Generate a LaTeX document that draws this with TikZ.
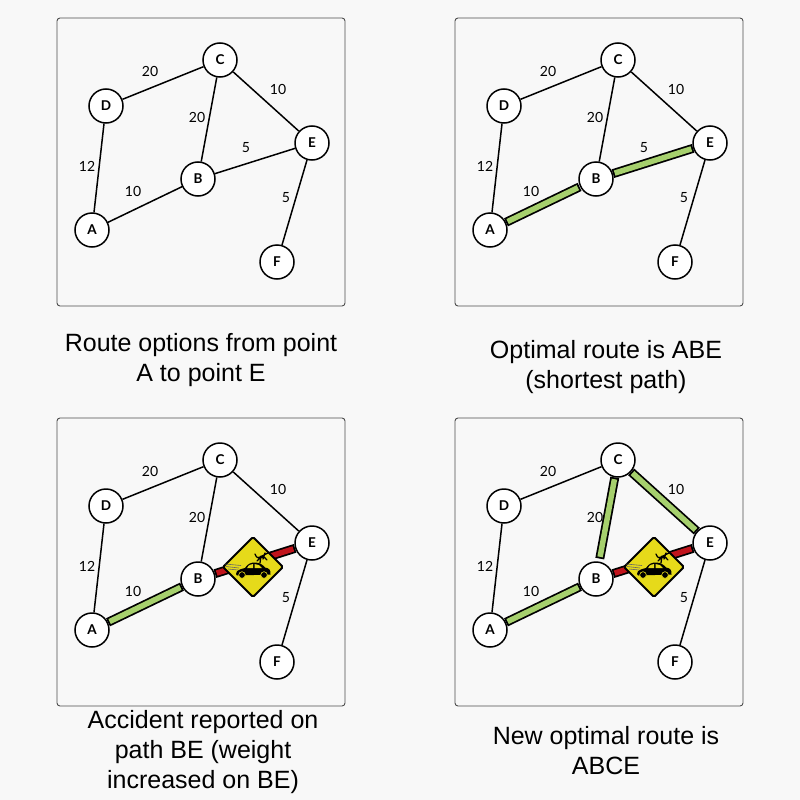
\documentclass[tikz,border=0pt]{standalone}
\usepackage{fontspec}
\setmainfont{Liberation Sans}
\newfontfamily\lato{Lato}
\newcommand{\fpx}[1]{\fontsize{#1}{#1}\selectfont}
\definecolor{pagebg}{HTML}{F8F8F8}
\definecolor{hlgreen}{HTML}{A6D06D}
\definecolor{hlred}{HTML}{C0141C}
\definecolor{signyellow}{HTML}{E6DA1A}
\tikzset{
  x=1pt,y=-1pt,
  panelbox/.style={draw=black!70,line width=0.9pt,rounded corners=3pt,fill=pagebg},
  vertex/.style={circle,draw=black,line width=1.5pt,fill=white,minimum size=34pt,inner sep=0pt,font={\lato\bfseries\fpx{13.5}}},
  edge/.style={draw=black,line width=1.5pt},
  weight/.style={font={\lato\fpx{14}},inner sep=0pt},
  caption/.style={align=center,font={\fontsize{25}{30}\selectfont},inner sep=0pt},
  barout/.style={draw=black,line width=9pt},
  barin/.style={line width=5.5pt},
  greenbar/.style={barin,draw=hlgreen},
  redbar/.style={barin,draw=hlred},
}
\newcommand{\panel}[3]{%
  \begin{scope}[shift={(#2,#3)},name prefix=#1]
    \draw[panelbox] (57,18) rectangle (345,306);
    \node[vertex] (C) at (220,60) {C};
    \node[vertex] (D) at (106,106) {D};
    \node[vertex] (B) at (198,179) {B};
    \node[vertex] (E) at (312,143) {E};
    \node[vertex] (A) at (92,230) {A};
    \node[vertex] (F) at (277,262) {F};
    \node[weight] (w1) at (150,71) {20};
    \node[weight] (w2) at (278,89) {10};
    \node[weight] (w3) at (197,117) {20};
    \node[weight] (w5) at (87,166) {12};
    \node[weight] (w6) at (133,191) {10};
    \node[weight] (w7) at (286,198) {5};
  \end{scope}}
\newcommand{\plainedges}[2]{\foreach \a/\b in {#2}{\draw[edge] (#1\a) -- (#1\b);}}
% bar from node to node, with a black outline closing its free ends
\newcommand{\hlbar}[5]{% style, from, to, shorten at from, shorten at to
  \draw[barout,shorten <=#4pt,shorten >=#5pt] (#2) -- (#3);
  \draw[#1,shorten <=#4pt+1.8pt,shorten >=#5pt+1.8pt] (#2) -- (#3);}
\newcommand{\accident}[2]{%
  \begin{scope}[shift={(#1,#2)}]
    \draw[fill=signyellow,draw=black,line width=2pt,line join=round,rounded corners=1.5pt] (0,-30) -- (30,0) -- (0,30) -- (-30,0) -- cycle;
    \draw[black!60,line width=0.6pt] (-28,-3) -- (-12,-1.5) (-27,-0.5) -- (-14,1) (-25,2) -- (-15,3);
    \fill[black] (-17,7) .. controls (-17,3) and (-12,2) .. (-8,1)
      .. controls (-5,-3.5) and (-2,-4.5) .. (2,-4.5) .. controls (7,-4.5) and (10,-2) .. (12,0.5)
      .. controls (16,1) and (18,3) .. (17.5,7.5) -- (-16,8.5) -- cycle;
    \fill[signyellow] (-6,1.2) .. controls (-4.5,-2) and (-2.5,-3) .. (0,-3) -- (0,1.2) -- cycle
      (1.5,-3) .. controls (5,-3) and (7,-1.5) .. (9,1) -- (1.5,1.2) -- cycle;
    \draw[fill=black,draw=signyellow,line width=0.6pt] (-11,8) circle (3.3) (11,8) circle (3.3);
    \draw[black,line width=1.3pt,line cap=round,line join=round]
      (2,-13) .. controls (4,-8) and (5,-9) .. (9,-11) -- (15,-14)
      (4,-6) .. controls (7,-10) and (11,-12) .. (14,-7) (8,-11) -- (7,-4) (12,-14) -- (10,-8);
  \end{scope}}
\begin{document}
\begin{tikzpicture}
\useasboundingbox (0,0) rectangle (800,800);
\fill[pagebg] (0,0) rectangle (800,800);
\panel{p1}{0}{0}
\panel{p2}{398}{0}
\panel{p3}{0}{400}
\panel{p4}{398}{400}
% the weight 5 of BE: the sign hides it in the lower panels
\node[weight] (p1w4) at (246,148) {5};
\node[weight] (p2w4) at (644,148) {5};
% panel 1
\plainedges{p1}{D/C,C/B,C/E,D/A,A/B,B/E,E/F}
% panel 2
\plainedges{p2}{D/C,C/B,C/E,D/A,E/F}
\hlbar{greenbar}{p2A}{p2B}{0}{0.5}
\hlbar{greenbar}{p2B}{p2E}{0}{0}
% panel 3
\plainedges{p3}{D/C,C/B,C/E,D/A,E/F}
\hlbar{greenbar}{p3A}{p3B}{0}{0}
\hlbar{redbar}{p3B}{p3E}{0}{0}
\accident{253}{567}
% panel 4
\plainedges{p4}{D/C,D/A,E/F}
\hlbar{greenbar}{p4A}{p4B}{0}{0}
\hlbar{greenbar}{p4C}{p4B}{0}{3}
\hlbar{greenbar}{p4C}{p4E}{0}{0}
\hlbar{redbar}{p4B}{p4E}{0}{0}
\accident{654}{567}
% captions
\node[caption] (c1) at (201,360) {Route options from point\\A to point E};
\node[caption] (c2) at (606,367) {Optimal route is ABE\\(shortest path)};
\node[caption] (c3) at (203,752) {Accident reported on\\path BE (weight\\increased on BE)};
\node[caption] (c4) at (606,751) {New optimal route is\\ABCE};
\end{tikzpicture}
\end{document}
